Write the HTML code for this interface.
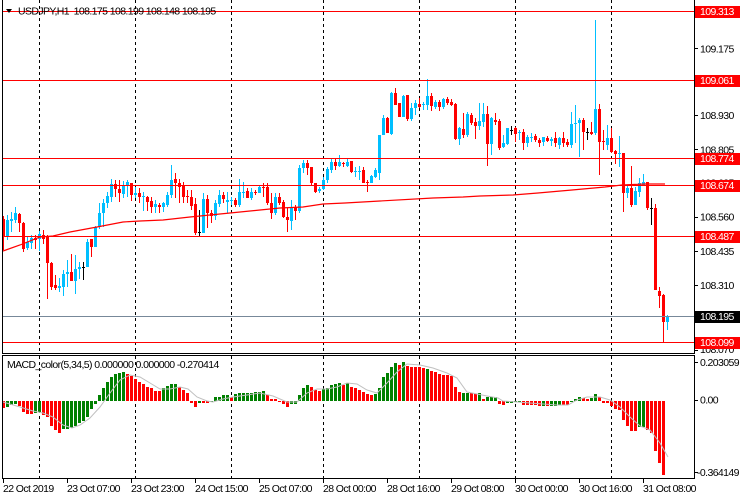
<!DOCTYPE html>
<html>
<head>
<meta charset="utf-8">
<style>
html,body{margin:0;padding:0;background:#fff;}
svg{display:block;}
text{font-family:"Liberation Sans",Arial,sans-serif;font-size:10.5px;letter-spacing:-0.6px;fill:#000;}
.w{fill:#fff;}
</style>
</head>
<body>
<svg id="c" width="740" height="500" viewBox="0 0 740 500" xmlns="http://www.w3.org/2000/svg">
<rect width="740" height="500" fill="#fff"/>
<!-- dashed grid -->
<g stroke="#000" stroke-width="1" stroke-dasharray="3,3" shape-rendering="crispEdges">
<line x1="39.5" y1="0" x2="39.5" y2="353"/><line x1="39.5" y1="356" x2="39.5" y2="478"/>
<line x1="135.5" y1="0" x2="135.5" y2="353"/><line x1="135.5" y1="356" x2="135.5" y2="478"/>
<line x1="231.5" y1="0" x2="231.5" y2="353"/><line x1="231.5" y1="356" x2="231.5" y2="478"/>
<line x1="323.5" y1="0" x2="323.5" y2="353"/><line x1="323.5" y1="356" x2="323.5" y2="478"/>
<line x1="419.5" y1="0" x2="419.5" y2="353"/><line x1="419.5" y1="356" x2="419.5" y2="478"/>
<line x1="515.5" y1="0" x2="515.5" y2="353"/><line x1="515.5" y1="356" x2="515.5" y2="478"/>
<line x1="611.5" y1="0" x2="611.5" y2="353"/><line x1="611.5" y1="356" x2="611.5" y2="478"/>
</g>
<g id="candles" shape-rendering="crispEdges"></g>
<g id="macd" shape-rendering="crispEdges"></g>
<!-- signal line -->
<polyline fill="none" stroke="#c0c0c0" stroke-width="1" points="3,402 20,407 33,411 43,413 53,417 63,425 72,428 80,425 90,418 100,407 110,393 120,380 130,375 140,377 150,383 160,389 170,389 180,387 188,389 197,397 207,401 213,402 223,399 233,397 247,395 260,393 273,396 287,402 297,402 307,393 317,389 327,389 337,387 347,383 357,384 367,390 377,393 387,383 397,372 407,364 420,365 433,368 447,373 457,378 467,392 477,394 487,396 498,398 503,401 517,402 530,403 543,404 557,405 568,405 577,400 587,397 600,397 610,400 620,407 630,417 640,426 650,430 660,443 668,457"/>
<!-- moving average -->
<polyline fill="none" stroke="#ff0000" stroke-width="1.2" points="3,251 20,245 40,237 53,236 70,232 97,227 123,222 140,221 163,220 190,217 220,214 240,212 260,210 280,208 303,207 323,204 345,203 380,201 433,198 463,197 480,196 513,195 538,193 572,190 605,187 622,185 645,184 665,184"/>
<!-- horizontal lines -->
<g shape-rendering="crispEdges">
<rect x="3" y="11" width="691" height="1" fill="#ff0000"/>
<rect x="3" y="80" width="691" height="1" fill="#ff0000"/>
<rect x="3" y="158" width="691" height="1" fill="#ff0000"/>
<rect x="3" y="185" width="691" height="1" fill="#ff0000"/>
<rect x="3" y="236" width="691" height="1" fill="#ff0000"/>
<rect x="3" y="342" width="691" height="1" fill="#ff0000"/>
<rect x="3" y="316" width="691" height="1" fill="#778899"/>
<!-- borders -->
<rect x="2" y="0" width="1" height="354" fill="#000"/>
<rect x="694" y="0" width="1" height="354" fill="#000"/>
<rect x="2" y="353" width="693" height="1" fill="#000"/>
<rect x="2" y="355" width="693" height="1" fill="#000"/>
<rect x="2" y="355" width="1" height="124" fill="#000"/>
<rect x="694" y="355" width="1" height="124" fill="#000"/>
<rect x="2" y="478" width="693" height="1" fill="#000"/>
<!-- right ticks -->
<g fill="#000">
<rect x="695" y="14" width="3" height="1"/>
<rect x="695" y="48" width="3" height="1"/>
<rect x="695" y="82" width="3" height="1"/>
<rect x="695" y="115" width="3" height="1"/>
<rect x="695" y="149" width="3" height="1"/>
<rect x="695" y="182" width="3" height="1"/>
<rect x="695" y="217" width="3" height="1"/>
<rect x="695" y="251" width="3" height="1"/>
<rect x="695" y="285" width="3" height="1"/>
<rect x="695" y="319" width="3" height="1"/>
<rect x="695" y="350" width="3" height="1"/>
<rect x="695" y="362" width="3" height="1"/>
<rect x="695" y="400" width="3" height="1"/>
<rect x="695" y="472" width="3" height="1"/>
<!-- bottom ticks -->
<rect x="3" y="479" width="1" height="4"/>
<rect x="67" y="479" width="1" height="4"/>
<rect x="131" y="479" width="1" height="4"/>
<rect x="195" y="479" width="1" height="4"/>
<rect x="259" y="479" width="1" height="4"/>
<rect x="323" y="479" width="1" height="4"/>
<rect x="387" y="479" width="1" height="4"/>
<rect x="451" y="479" width="1" height="4"/>
<rect x="515" y="479" width="1" height="4"/>
<rect x="579" y="479" width="1" height="4"/>
<rect x="643" y="479" width="1" height="4"/>
</g>
</g>
<!-- right axis tick labels -->
<text x="700" y="18.2">109.300</text>
<text x="700" y="52.4">109.175</text>
<text x="700" y="86.5">109.050</text>
<text x="700" y="119.2">108.930</text>
<text x="700" y="153.3">108.805</text>
<text x="700" y="186.4">108.685</text>
<text x="700" y="220.7">108.560</text>
<text x="700" y="254.8">108.435</text>
<text x="700" y="288.8">108.310</text>
<text x="700" y="323.2">108.185</text>
<text x="700" y="353">108.070</text>
<text x="700" y="366">0.203059</text>
<text x="700" y="403.5">0.00</text>
<text x="697" y="476">-0.364149</text>
<!-- price level boxes -->
<g shape-rendering="crispEdges">
<rect x="695" y="6" width="45" height="12" fill="#ff0000"/>
<rect x="695" y="75" width="45" height="12" fill="#ff0000"/>
<rect x="695" y="153" width="45" height="12" fill="#ff0000"/>
<rect x="695" y="180" width="45" height="12" fill="#ff0000"/>
<rect x="695" y="231" width="45" height="12" fill="#ff0000"/>
<rect x="695" y="311" width="45" height="12" fill="#000"/>
<rect x="695" y="337" width="45" height="12" fill="#ff0000"/>
</g>
<text class="w" x="700" y="15">109.313</text>
<text class="w" x="700" y="84">109.061</text>
<text class="w" x="700" y="162">108.774</text>
<text class="w" x="700" y="189">108.674</text>
<text class="w" x="700" y="240">108.487</text>
<text class="w" x="700" y="320">108.195</text>
<text class="w" x="700" y="346">108.099</text>
<!-- headers -->
<polygon points="6,9 12,9 9,13" fill="#000"/>
<text x="18" y="14.5">USDJPY,H1&#160; 108.175 108.199 108.148 108.195</text>
<text x="7" y="368">MACD_color(5,34,5) 0.000000 0.000000 -0.270414</text>
<!-- time axis -->
<text x="3" y="492">22 Oct 2019</text>
<text x="67" y="492">23 Oct 07:00</text>
<text x="131" y="492">23 Oct 23:00</text>
<text x="195" y="492">24 Oct 15:00</text>
<text x="259" y="492">25 Oct 07:00</text>
<text x="323" y="492">28 Oct 00:00</text>
<text x="387" y="492">28 Oct 16:00</text>
<text x="451" y="492">29 Oct 08:00</text>
<text x="515" y="492">30 Oct 00:00</text>
<text x="579" y="492">30 Oct 16:00</text>
<text x="643" y="492">31 Oct 08:00</text>
</svg>
<script>
(function(){
var NS="http://www.w3.org/2000/svg";
var C=[
['r',219,237,216,250],['b',220,237,215,240],['b',219,221,212,232],['b',213,220,207,223],['r',214,223,213,232],
['r',223,249,222,252],['b',242,248,237,250],['b',238,243,235,249],['r',238,240,235,249],['b',234,239,231,251],
['r',235,239,230,244],['r',237,263,235,299],['r',263,287,262,290],['r',285,288,275,290],['b',286,288,278,292],
['b',274,287,270,296],['b',272,274,260,287],['r',272,281,254,281],['b',269,281,255,294],['b',267,269,262,279],
['k',267,267,262,280],['b',242,267,239,267],['r',239,247,239,257],['b',227,247,226,247],['b',213,227,203,229],
['b',203,213,199,227],['b',196,203,192,208],['b',184,197,179,202],['r',184,189,180,197],['r',189,193,180,202],
['b',185,194,181,198],['b',182,185,180,197],['r',183,195,183,201],['b',193,195,187,198],['r',193,197,188,203],
['b',196,197,192,211],['r',197,202,196,211],['r',201,207,197,213],['b',204,207,200,213],['r',205,207,203,213],
['b',203,207,202,212],['b',195,205,192,207],['b',180,195,165,198],['r',179,183,173,198],['r',183,187,179,203],
['r',185,197,182,203],['r',196,197,190,203],['r',197,206,190,210],['r',204,233,198,235],['k',232,232,210,237],
['b',199,233,193,233],['r',199,213,195,228],['r',213,216,210,223],['b',203,216,200,220],['b',195,204,190,207],
['r',195,199,192,203],['b',200,202,192,213],['b',200,201,197,205],['r',200,205,198,207],['b',192,205,179,207],
['b',192,193,182,198],['r',191,198,188,198],['b',192,198,188,200],['r',192,193,190,195],['b',187,193,185,193],
['r',187,188,183,197],['r',187,203,183,205],['r',203,213,193,219],['b',197,213,193,215],['r',197,203,193,205],
['r',202,217,200,218],['r',217,220,208,232],['b',207,221,200,230],['r',207,211,205,220],['b',168,211,165,213],
['b',163,168,160,173],['r',163,168,160,175],['r',167,183,167,185],['r',183,192,183,193],['b',189,191,187,193],
['b',180,189,177,190],['b',169,180,167,183],['b',162,170,158,173],['r',162,166,158,170],['b',162,166,155,167],
['r',163,164,162,167],['b',162,166,159,167],['r',161,172,161,173],['b',171,172,167,177],['b',171,172,166,180],
['r',170,183,167,183],['r',182,183,180,192],['b',176,183,175,183],['b',170,177,168,178],['b',135,173,135,180],
['b',118,135,115,135],['r',118,133,117,133],['b',93,134,92,135],['r',93,105,88,105],['r',103,117,103,117],
['b',96,117,95,117],['r',95,119,95,121],['b',108,119,103,121],['b',103,108,100,115],['r',104,107,98,108],
['b',104,105,102,110],['b',96,105,79,110],['r',96,106,93,111],['b',102,107,100,109],['r',102,107,100,111],
['b',99,107,98,109],['r',99,103,97,105],['r',102,105,99,106],['r',104,139,103,140],['b',128,139,127,145],
['r',129,135,113,138],['b',114,135,112,137],['r',115,123,113,125],['r',122,126,118,139],['b',121,126,103,130],
['b',114,122,103,127],['r',114,144,106,166],['b',118,144,117,155],['r',120,122,113,125],['r',121,148,119,150],
['b',143,147,135,148],['b',128,144,128,145],['k',130,130,126,135],['r',128,134,127,142],['b',132,133,130,140],
['r',132,143,129,150],['b',137,143,135,147],['b',137,138,133,142],['r',136,140,134,142],['r',140,143,138,147],
['b',137,142,137,146],['r',138,141,136,142],['b',139,141,137,146],['r',138,143,132,147],['b',138,145,137,149],
['r',138,143,132,147],['r',142,145,139,147],['b',124,145,112,148],['b',123,124,105,143],['b',120,123,118,157],
['r',120,132,118,150],['k',132,132,128,140],['r',132,134,122,135],['b',109,133,20,135],['r',109,142,104,175],
['r',141,142,130,150],['b',138,145,125,150],['r',138,152,128,153],['r',151,154,150,164],['b',153,154,136,167],
['r',153,193,153,212],['b',188,193,185,198],['r',188,205,166,207],['b',191,205,187,205],['b',183,192,178,197],
['b',182,185,174,185],['r',182,208,182,210],['k',208,208,198,225],['r',208,290,204,290],['r',291,296,287,308],
['r',295,322,294,343],['b',316,322,315,330]
];
var col={b:'#00bfff',r:'#ff0000',k:'#000000',g:'#008000'};
var g=document.getElementById('candles');
function R(par,x,y,w,h,f){var e=document.createElementNS(NS,'rect');e.setAttribute('x',x);e.setAttribute('y',y);e.setAttribute('width',w);e.setAttribute('height',h);e.setAttribute('fill',f);par.appendChild(e);}
for(var i=0;i<C.length;i++){
 var d=C[i],c=col[d[0]],x=4*i+2;
 R(g,x+1,d[3],1,Math.max(d[4]-d[3],1),c);
 R(g,x,d[1],3,Math.max(d[2]-d[1],1),c);
}
var MY=[202,198,192,190,195,213,218,218,215,213,222,228,255,268,275,265,265,262,255,247,240,228,205,190,165,145,127,110,102,100,97,103,108,118,125,133,140,145,152,152,145,137,132,132,142,150,158,185,197,185,187,186,180,172,170,166,165,170,163,160,160,160,158,157,155,153,165,178,177,180,188,197,190,190,165,145,135,142,150,152,148,143,135,132,130,135,128,140,145,150,157,163,165,162,145,110,100,80,70,75,67,78,80,80,82,85,87,93,95,102,105,105,108,140,155,160,160,160,162,160,178,172,172,172,190,193,187,185,183,183,192,192,192,192,196,194,196,195,195,193,193,193,183,178,170,175,178,173,162,172,185,186,195,205,207,238,255,270,270,258,258,268,275,330,365,402];
var MC="rgggrrrrgg"+"rrrrrggggg"+"gggggggggg"+"grrrrrrrrr"+"ggggrrrrrg"+"rrgggggrgg"+"ggggggrrrr"+"rrgggggrrr"+"gggggrgrrr"+"rrrggggggr"+"grrrrrgrrr"+"rrrrrggrrg"+"rgggrrgggg"+"rrrrrgrggg"+"rrgggrrggr"+"rrrrrrrrrg"+"grrrrr";
var m=document.getElementById('macd');
for(var j=0;j<MY.length;j++){
 var y=340+MY[j]/3,top,bot;
 if(y<400){top=Math.round(y);bot=401;}else{top=401;bot=Math.round(y)+1;}
 R(m,4*j+2,top,3,Math.max(bot-top,1),col[MC.charAt(j)]);
}
})();
</script>
</body>
</html>
